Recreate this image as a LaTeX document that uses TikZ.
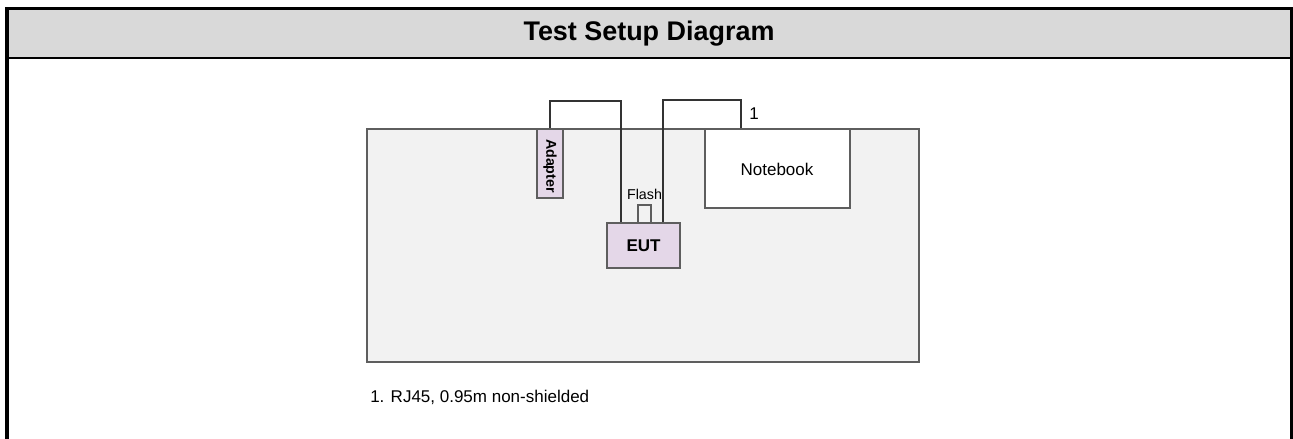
\documentclass[tikz,border=0pt]{standalone}
\usepackage{fontspec}
\setmainfont{Liberation Sans}
\definecolor{hdr}{HTML}{D9D9D9}
\definecolor{bench}{HTML}{F2F2F2}
\definecolor{lav}{HTML}{E4D7E8}
\definecolor{edge}{HTML}{5E5E5E}
\definecolor{wire}{HTML}{333333}
\tikzset{
  box/.style={draw=edge, line width=1.1pt, inner sep=0pt, rectangle},
  cable/.style={draw=wire, line width=1.1pt},
  lbl/.style={inner sep=0pt, font=\fontsize{12.75}{15}\selectfont},
}
\begin{document}
\begin{tikzpicture}[x=0.75pt, y=-0.75pt]
\useasboundingbox (0,0) rectangle (1293,439);
% header
\fill[hdr] (7,8.5) rectangle (1292,57.7);
\draw[black, line width=1.5pt] (7,57.7) -- (1292,57.7);
\draw[black, line width=2.4pt] (7,439) -- (7,8.5) -- (1292,8.5) -- (1292,439);
\node[inner sep=0pt, font=\bfseries\fontsize{20.2}{24}\selectfont] (title) at (649,34) {Test Setup Diagram};
% bench
\node[box, fill=bench, minimum width=414pt, minimum height=174.75pt] (bench) at (643,245.5) {};
% units
\node[box, fill=lav, minimum width=19.5pt, minimum height=51.75pt] (adapter) at (550,163.5) {};
\node[rotate=-90, inner sep=0pt, font=\bfseries\fontsize{10.7}{12}\selectfont] (adaptertxt) at (550,166) {Adapter};
\node[box, fill=lav, minimum width=54.75pt, minimum height=33.75pt, font=\bfseries\fontsize{12.75}{15}\selectfont] (eut) at (643.5,245.5) {EUT};
\node[box, fill=bench, minimum width=9.75pt, minimum height=13.5pt] (flash) at (644.5,214) {};
\node[inner sep=0pt, font=\fontsize{10.7}{12}\selectfont] (flashtxt) at (644.5,194) {Flash};
\node[box, fill=white, minimum width=108.75pt, minimum height=59.25pt] (nb) at (777.5,168.5) {};
\node[lbl] (nbtxt) at (777,169) {Notebook};
% cables
\coordinate (c1) at (621,101);
\draw[cable] (adapter.north) |- (c1) -- (c1 |- eut.north);
\coordinate (c2) at (663,100);
\coordinate (c3) at (741,100);
\draw[cable] (c2 |- eut.north) -- (c2) -- (c3) -- (c3 |- nb.north);
\node[lbl] (one) at (754,114) {1};
% footnote
\node[lbl, anchor=west] (note) at (370,397) {1. RJ45, 0.95m non-shielded};
\end{tikzpicture}
\end{document}
